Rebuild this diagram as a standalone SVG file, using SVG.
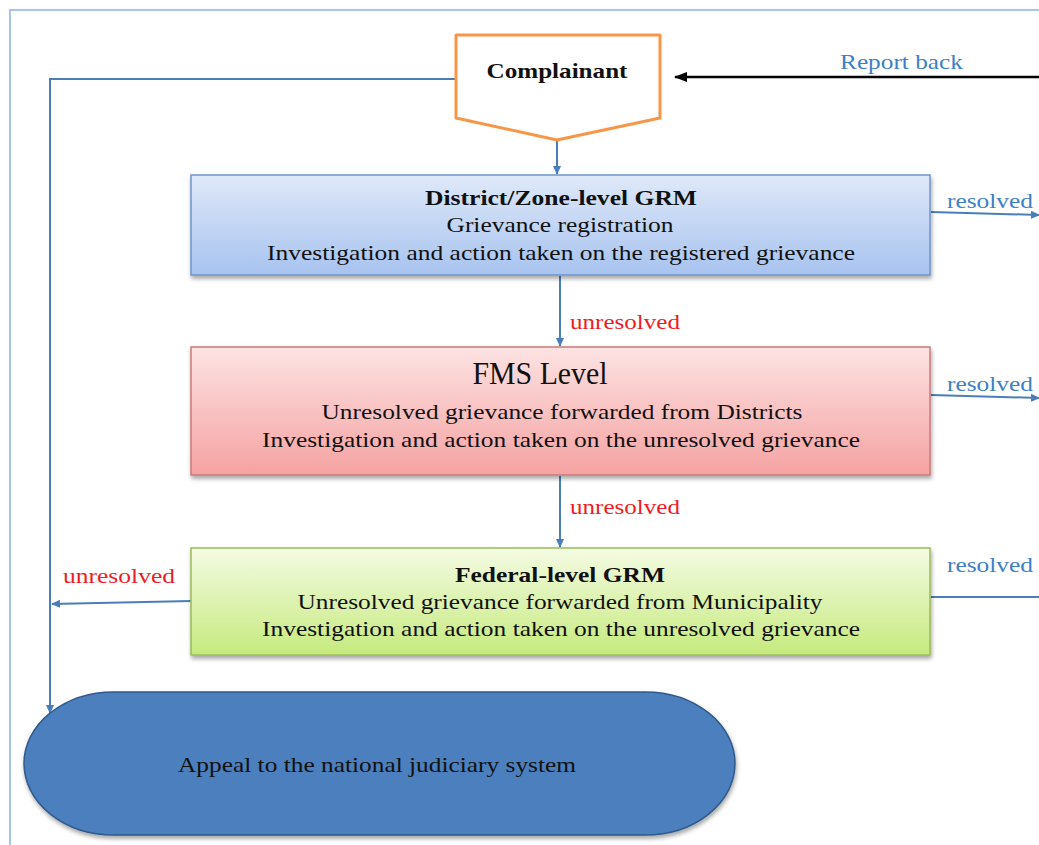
<svg xmlns="http://www.w3.org/2000/svg" width="1039" height="845" viewBox="0 0 1039 845">
<defs>
  <linearGradient id="gBlue" x1="0" y1="0" x2="0" y2="1"><stop offset="0" stop-color="#dfe9f9"/><stop offset="1" stop-color="#a7c3ef"/></linearGradient>
  <linearGradient id="gRed" x1="0" y1="0" x2="0" y2="1"><stop offset="0" stop-color="#fde3e3"/><stop offset="1" stop-color="#f5a2a2"/></linearGradient>
  <linearGradient id="gGreen" x1="0" y1="0" x2="0" y2="1"><stop offset="0" stop-color="#f4fbe3"/><stop offset="1" stop-color="#c6ea7e"/></linearGradient>
  <filter id="sh" x="-5%" y="-10%" width="110%" height="130%"><feDropShadow dx="1" dy="3" stdDeviation="2" flood-color="#000" flood-opacity="0.35"/></filter>
  <marker id="aB" markerWidth="10" markerHeight="10" refX="8" refY="5" orient="auto" markerUnits="userSpaceOnUse"><path d="M0,1 L9,5 L0,9 Z" fill="#4a7ebb"/></marker>
  <marker id="aK" markerWidth="14" markerHeight="12" refX="12" refY="6" orient="auto" markerUnits="userSpaceOnUse"><path d="M0,1 L13,6 L0,11 Z" fill="#000"/></marker>
</defs>
<style>
  .t{font-family:"Liberation Serif","Times New Roman",serif;font-size:22px;fill:#111;text-anchor:middle}
  .b{font-weight:bold}
  .res{font-family:"Liberation Serif","Times New Roman",serif;font-size:22px;fill:#3d80c7}
  .unr{font-family:"Liberation Serif","Times New Roman",serif;font-size:22px;fill:#ee1c24}
  .ln{stroke:#4a7ebb;stroke-width:2;fill:none}
  .box{stroke-width:1.5}
</style>
<rect width="1039" height="845" fill="#fff"/>
<path d="M10,845 L10,10 L1039,10" fill="none" stroke="#aac3ea" stroke-width="2"/>

<g id="connectors">
  <path class="ln" d="M456,79 L50,79 L50,713" marker-end="url(#aB)"/>
  <path class="ln" d="M557,140 L557,174" marker-end="url(#aB)"/>
  <path class="ln" d="M560,276 L560,346" marker-end="url(#aB)"/>
  <path class="ln" d="M560,476 L560,547" marker-end="url(#aB)"/>
  <path class="ln" d="M931,212 L1039,215" marker-end="url(#aB)"/>
  <path class="ln" d="M931,395 L1039,398" marker-end="url(#aB)"/>
  <path class="ln" d="M931,597 L1039,597"/>
  <path class="ln" d="M191,601 L52,604" marker-end="url(#aB)"/>
  <path d="M1039,77 L675,77" stroke="#000" stroke-width="2.5" fill="none" marker-end="url(#aK)"/>
  <text class="res" x="840" y="69" textLength="123" lengthAdjust="spacingAndGlyphs">Report back</text>
  <text class="res" x="947" y="208" textLength="86" lengthAdjust="spacingAndGlyphs">resolved</text>
  <text class="res" x="947" y="391" textLength="86" lengthAdjust="spacingAndGlyphs">resolved</text>
  <text class="res" x="947" y="572" textLength="86" lengthAdjust="spacingAndGlyphs">resolved</text>
  <text class="unr" x="570" y="329" textLength="110" lengthAdjust="spacingAndGlyphs">unresolved</text>
  <text class="unr" x="570" y="514" textLength="110" lengthAdjust="spacingAndGlyphs">unresolved</text>
  <text class="unr" x="63" y="583" textLength="112" lengthAdjust="spacingAndGlyphs">unresolved</text>
</g>

<g id="complainant">
  <path d="M456,35 L660,35 L660,118 L557,140 L456,118 Z" fill="#fff" stroke="#f79646" stroke-width="3" stroke-linejoin="round"/>
  <text class="t b" x="557" y="78" textLength="141" lengthAdjust="spacingAndGlyphs">Complainant</text>
</g>

<g id="district">
  <rect class="box" x="191" y="175" width="739" height="100" fill="url(#gBlue)" stroke="#6f95c9" filter="url(#sh)"/>
  <text class="t b" x="561" y="205" textLength="272" lengthAdjust="spacingAndGlyphs">District/Zone-level GRM</text>
  <text class="t" x="560" y="232" textLength="227" lengthAdjust="spacingAndGlyphs">Grievance registration</text>
  <text class="t" x="561" y="260" textLength="588" lengthAdjust="spacingAndGlyphs">Investigation and action taken on the registered grievance</text>
</g>

<g id="fms">
  <rect class="box" x="191" y="347" width="739" height="128" fill="url(#gRed)" stroke="#c97b7b" filter="url(#sh)"/>
  <text class="t" x="540" y="384" style="font-size:32px" textLength="135" lengthAdjust="spacingAndGlyphs">FMS Level</text>
  <text class="t" x="562" y="419" textLength="481" lengthAdjust="spacingAndGlyphs">Unresolved grievance forwarded from Districts</text>
  <text class="t" x="561" y="447" textLength="598" lengthAdjust="spacingAndGlyphs">Investigation and action taken on the unresolved grievance</text>
</g>

<g id="federal">
  <rect class="box" x="191" y="548" width="739" height="107" fill="url(#gGreen)" stroke="#9bbb59" filter="url(#sh)"/>
  <text class="t b" x="560" y="582" textLength="210" lengthAdjust="spacingAndGlyphs">Federal-level GRM</text>
  <text class="t" x="560" y="609" textLength="525" lengthAdjust="spacingAndGlyphs">Unresolved grievance forwarded from Municipality</text>
  <text class="t" x="561" y="636" textLength="598" lengthAdjust="spacingAndGlyphs">Investigation and action taken on the unresolved grievance</text>
</g>

<g id="appeal">
  <rect x="24" y="692" width="711" height="143" rx="90" ry="71.5" fill="#4b7fbd" stroke="#2f5a8c" stroke-width="1.5" filter="url(#sh)"/>
  <text class="t" x="377" y="772" textLength="398" lengthAdjust="spacingAndGlyphs">Appeal to the national judiciary system</text>
</g>
</svg>
